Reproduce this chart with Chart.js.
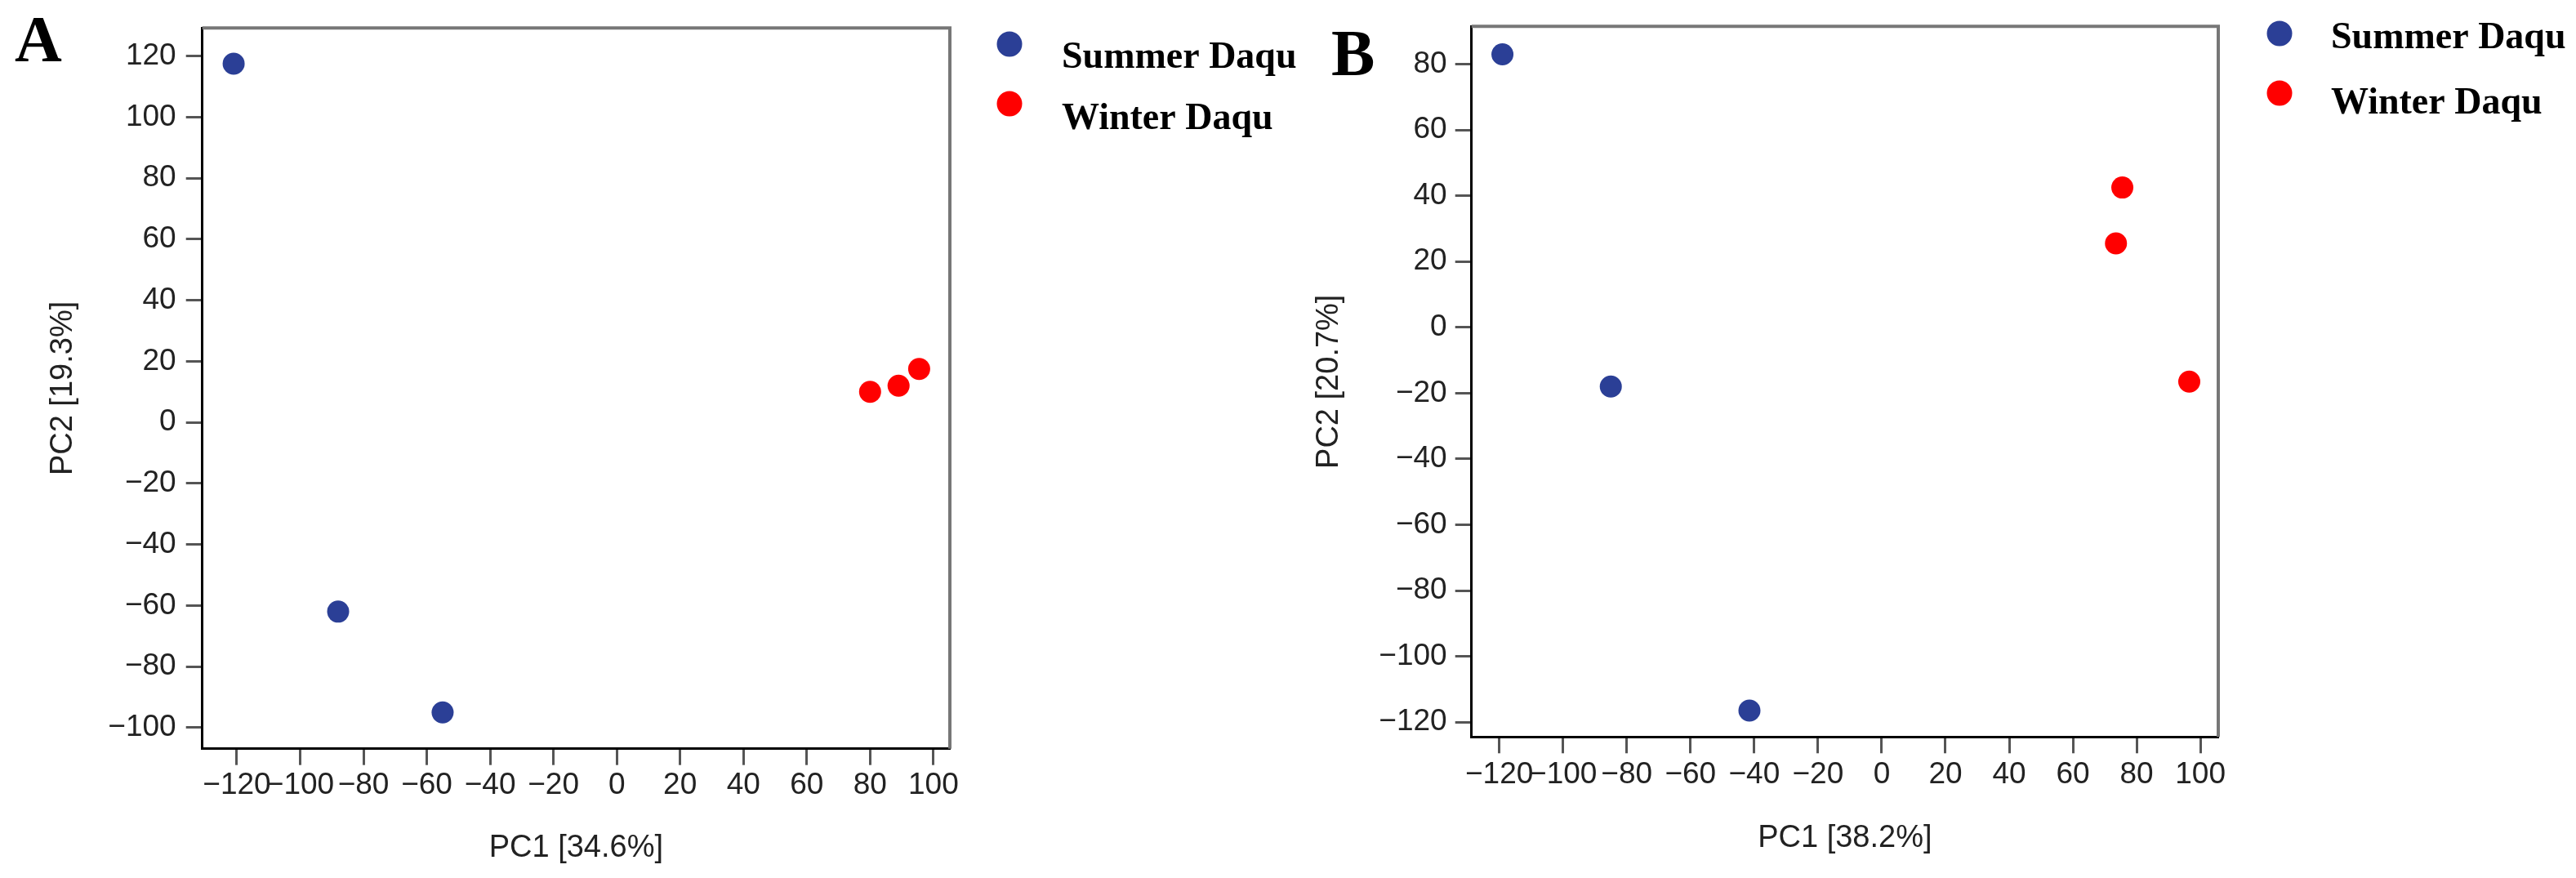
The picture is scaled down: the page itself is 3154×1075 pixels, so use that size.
<!DOCTYPE html>
<html>
<head>
<meta charset="utf-8">
<script src="https://cdn.jsdelivr.net/npm/chart.js@4.4.1/dist/chart.umd.min.js"></script>
<style>
  html, body { margin: 0; padding: 0; background: #fff; }
  body { width: 3154px; height: 1075px; position: relative; overflow: hidden; }
  .panel { position: absolute; top: 0; height: 1075px; }
  #panelA { left: 0; width: 1620px; }
  #panelB { left: 1577px; width: 1577px; }
</style>
</head>
<body>
<div class="panel" id="panelA"><canvas id="pcaA"></canvas></div>
<div class="panel" id="panelB"><canvas id="pcaB"></canvas></div>
<script>
// ── Data ───────────────────────────────────────────────
const groups = ['Summer Daqu', 'Winter Daqu'];

// Panel A
const summerA_x = [-121, -88, -55];
const summerA_y = [117.5, -62, -95];
const winterA_x = [80, 89, 95.5];
const winterA_y = [10, 12, 17.5];
const xTicksA = [-120, -100, -80, -60, -40, -20, 0, 20, 40, 60, 80, 100];
const yTicksA = [-100, -80, -60, -40, -20, 0, 20, 40, 60, 80, 100, 120];

// Panel B
const summerB_x = [-119, -85, -41.5];
const summerB_y = [83, -18, -116.5];
const winterB_x = [75.5, 73.5, 96.5];
const winterB_y = [42.5, 25.5, -16.5];
const xTicksB = [-120, -100, -80, -60, -40, -20, 0, 20, 40, 60, 80, 100];
const yTicksB = [-120, -100, -80, -60, -40, -20, 0, 20, 40, 60, 80];

const SANS  = '"Liberation Sans", Arial, sans-serif';
const SERIF = '"Liberation Serif", "Times New Roman", serif';
const BLUE  = '#2b3f96';
const RED   = '#ff0000';

const fmt = v => (v < 0 ? '\u2212' + Math.abs(v) : String(v));
const toPoints = (xs, ys) => xs.map((x, i) => ({ x, y: ys[i] }));

// ── Frame, legend and panel letter ─────────────────────
const panelDecor = {
  id: 'panelDecor',
  afterDraw(chart, args, o) {
    const { ctx, chartArea: a } = chart;
    ctx.save();
    ctx.strokeStyle = '#777';
    ctx.lineWidth = 4;
    ctx.beginPath();
    ctx.moveTo(a.left, a.top);
    ctx.lineTo(a.right, a.top);
    ctx.lineTo(a.right, a.bottom);
    ctx.stroke();

    chart.data.datasets.forEach((ds, i) => {
      ctx.fillStyle = ds.backgroundColor;
      ctx.beginPath();
      ctx.arc(o.dotX, o.dotY[i], 15.5, 0, Math.PI * 2);
      ctx.fill();
      ctx.fillStyle = '#000';
      ctx.font = 'bold 46px ' + SERIF;
      ctx.textBaseline = 'alphabetic';
      ctx.textAlign = 'left';
      ctx.fillText(ds.label, o.textX, o.textY[i]);
    });

    ctx.font = 'bold 80px ' + SERIF;
    ctx.fillText(o.tag, o.tagX, o.tagY);
    ctx.restore();
  },
};

function makeAxis(ticks, min, max, title, size, tickPad, titlePad, isX) {
  return {
    type: 'linear', min, max,
    afterBuildTicks: s => { s.ticks = ticks.map(v => ({ value: v })); },
    afterFit: s => { if (isX) s.height = size; else s.width = size; },
    grid:   { drawOnChartArea: false, drawTicks: true, tickLength: 20, tickWidth: 3, tickColor: '#555' },
    border: { display: true, color: '#000', width: 3 },
    ticks:  { color: '#222', padding: tickPad, autoSkip: false, maxRotation: 0,
              font: { family: SANS, size: 37, lineHeight: 1.2 }, callback: fmt },
    title:  { display: true, text: title, color: '#222', padding: { top: titlePad, bottom: titlePad },
              font: { family: SANS, size: 38, lineHeight: 1.2 } },
  };
}

function makeChart(id, summer, winter, scales, layoutPad, decor) {
  return new Chart(document.getElementById(id), {
    type: 'scatter',
    data: {
      datasets: [
        { label: groups[0], data: summer, backgroundColor: BLUE, pointRadius: 13.5, borderWidth: 0 },
        { label: groups[1], data: winter, backgroundColor: RED,  pointRadius: 13.5, borderWidth: 0 },
      ],
    },
    options: {
      responsive: true, maintainAspectRatio: false, animation: false,
      layout: { padding: layoutPad },
      plugins: { legend: { display: false }, tooltip: { enabled: false }, panelDecor: decor },
      scales,
    },
    plugins: [panelDecor],
  });
}

// ── Panel A ────────────────────────────────────────────
makeChart('pcaA',
  toPoints(summerA_x, summerA_y), toPoints(winterA_x, winterA_y),
  {
    x: makeAxis(xTicksA, -130.9, 105.2, 'PC1 [34.6%]', 158.3, 3, 14, true),
    y: makeAxis(yTicksA, -106.9, 129.2, 'PC2 [19.3%]', 247.7, 12, 55, false),
  },
  { left: 0, top: 31.6, right: 457, bottom: 0 },
  { dotX: 1236, dotY: [54, 127], textX: 1300, textY: [83, 158], tag: 'A', tagX: 18, tagY: 75 });

// ── Panel B ────────────────────────────────────────────
makeChart('pcaB',
  toPoints(summerB_x, summerB_y), toPoints(winterB_x, winterB_y),
  {
    x: makeAxis(xTicksB, -128.7, 105.6, 'PC1 [38.2%]', 172.7, 4, 25.5, true),
    y: makeAxis(yTicksB, -124.5, 91.5, 'PC2 [20.7%]', 224.7, 10, 28, false),
  },
  { left: 0, top: 16.7, right: 438, bottom: 0 },
  { dotX: 1214, dotY: [41, 114], textX: 1277, textY: [59, 139], tag: 'B', tagX: 53, tagY: 92 });
</script>
</body>
</html>
